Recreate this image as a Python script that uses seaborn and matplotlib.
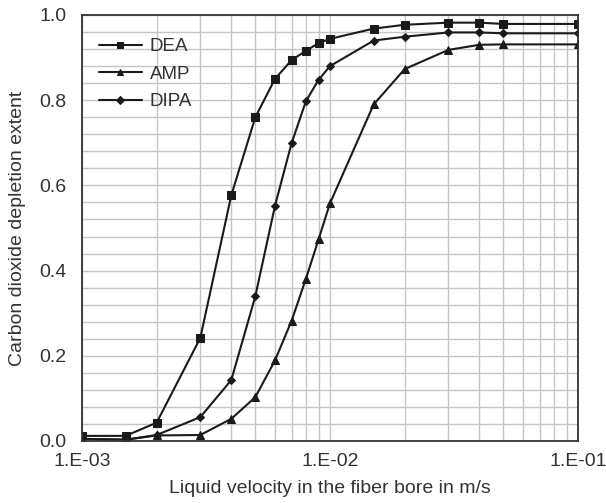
import numpy as np
import pandas as pd
import matplotlib
matplotlib.use("Agg")
import matplotlib.pyplot as plt
import matplotlib.ticker as mticker
import seaborn as sns

velocity = [0.001, 0.0015, 0.002, 0.003, 0.004, 0.005, 0.006, 0.007, 0.008, 0.009,
            0.01, 0.015, 0.02, 0.03, 0.04, 0.05, 0.1]
dea = [0.012, 0.012, 0.043, 0.242, 0.577, 0.760, 0.850, 0.894, 0.916, 0.934,
       0.944, 0.968, 0.977, 0.982, 0.982, 0.979, 0.979]
amp = [0.005, 0.003, 0.013, 0.014, 0.052, 0.103, 0.189, 0.282, 0.381, 0.474,
       0.558, 0.790, 0.873, 0.918, 0.930, 0.931, 0.931]
dipa = [0.005, 0.003, 0.014, 0.056, 0.143, 0.340, 0.552, 0.699, 0.798, 0.848,
        0.880, 0.940, 0.949, 0.959, 0.959, 0.957, 0.957]
series_names = ["DEA", "AMP", "DIPA"]
x_ticklabels = ["1.E-03", "1.E-02", "1.E-01"]
y_ticklabels = ["0.0", "0.2", "0.4", "0.6", "0.8", "1.0"]

df = pd.concat([
    pd.DataFrame({"v": velocity, "ext": vals, "amine": name})
    for name, vals in zip(series_names, [dea, amp, dipa])
], ignore_index=True)

sns.set_theme(style="white")
plt.rcParams["font.family"] = ["Liberation Sans", "DejaVu Sans"]

fig = plt.figure(figsize=(6.06, 5.03), dpi=100)
ax = fig.add_axes([0.1353, 0.1233, 0.8185, 0.8469])

markers = {"DEA": "s", "AMP": "^", "DIPA": "D"}
sizes_ms = {"DEA": 5.5, "AMP": 5.5, "DIPA": 4.5}
for name in series_names:
    sub = df[df["amine"] == name]
    sns.lineplot(data=sub, x="v", y="ext", ax=ax, color="#1a1a1a",
                 marker=markers[name], markersize=sizes_ms[name],
                 markeredgecolor="#1a1a1a", linewidth=1.5, label=name,
                 estimator=None, sort=True)

ax.set_xscale("log")
ax.set_xlim(0.001, 0.1)
ax.set_ylim(0, 1.0)

ax.xaxis.set_major_locator(mticker.FixedLocator([0.001, 0.01, 0.1]))
ax.xaxis.set_major_formatter(mticker.FixedFormatter(x_ticklabels))
ax.xaxis.set_minor_locator(mticker.LogLocator(base=10, subs=np.arange(2, 10)))
ax.xaxis.set_minor_formatter(mticker.NullFormatter())
ax.yaxis.set_major_locator(mticker.FixedLocator([0, 0.2, 0.4, 0.6, 0.8, 1.0]))
ax.yaxis.set_major_formatter(mticker.FixedFormatter(y_ticklabels))
ax.yaxis.set_minor_locator(mticker.MultipleLocator(0.04))

ax.grid(True, which="both", color="#c4c4c4", linewidth=1.0)
ax.set_axisbelow(True)

ax.tick_params(axis="both", which="both", direction="in", colors="#333333",
               labelcolor="#333333", labelsize=14)
ax.tick_params(axis="both", which="major", length=6, width=1)
ax.tick_params(axis="both", which="minor", length=4, width=1)
ax.tick_params(axis="x", which="major", pad=9)
ax.tick_params(axis="y", which="major", pad=11)

for s in ax.spines.values():
    s.set_color("#333333")
    s.set_linewidth(1.3)

ax.set_xlabel("Liquid velocity in the fiber bore in m/s", fontsize=14, color="#333333", labelpad=7)
ax.set_ylabel("Carbon dioxide depletion extent", fontsize=14, color="#333333", labelpad=10)

leg = ax.legend(loc="upper left", bbox_to_anchor=(0.0, 0.985), frameon=False,
                fontsize=13.5, handlelength=2.3, handletextpad=0.4,
                labelspacing=0.55, markerscale=0.8)
for t in leg.get_texts():
    t.set_color("#333333")

fig.savefig("out.png", dpi=100)
